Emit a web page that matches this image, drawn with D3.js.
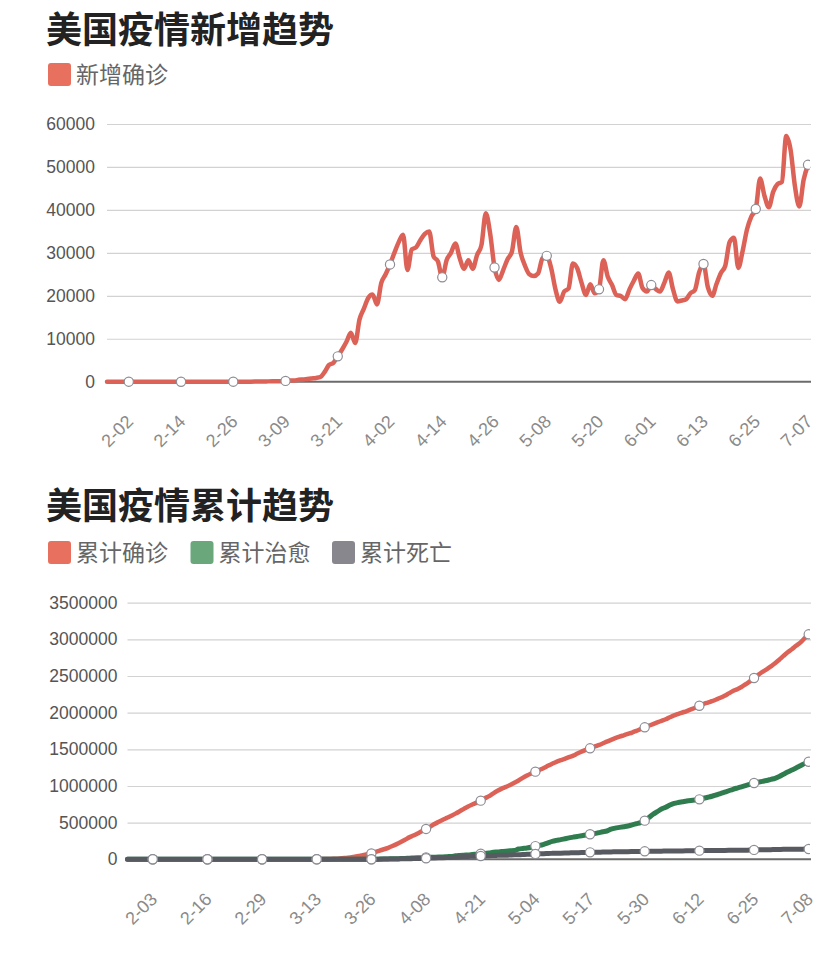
<!DOCTYPE html>
<html>
<head>
<meta charset="utf-8">
<script src="https://cdn.jsdelivr.net/npm/d3@7"></script>
<style>
  body { margin: 0; background: #fff; }
  svg { display: block; }
</style>
</head>
<body>
<svg id="chart" width="840" height="961"></svg>
<script>
// ---- data (2020, US) ----
// daily new confirmed, 1-28 .. 7-07
const dailyNew = [
  0, 0, 1, 1, 1,
  2, 3, 0, 1, 0,
  0, 0, 0, 0, 1,
  0, 1, 0, 0, 0,
  0, 0, 0, 0, 2,
  0, 0, 0, 0, 1,
  1, 2, 8, 13, 20,
  25, 33, 76, 100, 110,
  125, 190, 290, 270, 450,
  520, 650, 770, 880, 1100,
  2300, 3900, 4400, 5900, 7500,
  9300, 11400, 9000, 14500, 17000,
  19500, 20300, 18000, 23000, 25000,
  27300, 30000, 32500, 34200, 26000,
  30800, 31300, 33000, 34400, 35000,
  29200, 28000, 24300, 28300, 30000,
  32200, 28800, 26300, 28300, 26300,
  29500, 31800, 39200, 34500, 26600,
  23700, 26000, 28500, 30300, 36000,
  30000, 27000, 25000, 24600, 25200,
  28700, 29300, 26500, 21500, 18600,
  21000, 21700, 27500, 26400, 23000,
  20200, 22700, 20600, 21500, 28300,
  24500, 22500, 20200, 19950, 19200,
  21500, 23500, 25200, 21800, 21000,
  22500, 21600, 21000, 23000, 25400,
  21500, 18700, 18900, 19200, 20600,
  21300, 25500, 27400, 22000, 20000,
  22800, 25300, 27000, 32500, 33500,
  26500, 30500, 35500, 38500, 40200,
  47300, 43300, 40600, 44200, 46000,
  46500, 57200, 54000, 45500, 40800,
  47000, 50500
];

// cumulative series, 1-28 .. 7-08
const totalConfirmed = [
  5, 5, 6, 7, 8,
  11, 11, 11, 12, 12,
  12, 12, 12, 12, 13,
  13, 14, 15, 15, 15,
  15, 15, 15, 15, 35,
  35, 35, 53, 53, 59,
  60, 62, 70, 76, 101,
  122, 153, 221, 319, 435,
  541, 704, 994, 1301, 1697,
  2247, 2943, 3680, 4663, 6411,
  9197, 13779, 19367, 24192, 33592,
  43781, 54856, 68211, 80000, 100000,
  119000, 137000, 157000, 181000, 207000,
  235000, 266000, 299000, 324000, 353000,
  382000, 414000, 446000, 481000, 511000,
  540000, 566000, 594000, 623000, 655000,
  688000, 720000, 747000, 773000, 800000,
  832400, 862200, 900400, 934200, 963800,
  987200, 1012600, 1042900, 1074400, 1111500,
  1142500, 1170000, 1195400, 1220400, 1246300,
  1275000, 1302900, 1329600, 1351300, 1370900,
  1393400, 1414400, 1442800, 1468800, 1493800,
  1513800, 1535300, 1556600, 1579900, 1605100,
  1628900, 1651600, 1672200, 1691300, 1710400,
  1728900, 1751800, 1776000, 1800200, 1822200,
  1844300, 1866800, 1888500, 1910700, 1937400,
  1962100, 1982800, 2002400, 2021800, 2044300,
  2067000, 2094800, 2118500, 2137800, 2156300,
  2179700, 2203900, 2231100, 2263100, 2294900,
  2320800, 2350700, 2387600, 2426100, 2472500,
  2515600, 2555300, 2591100, 2630700, 2673400,
  2722600, 2774000, 2823200, 2865400, 2911600,
  2956100, 3013100, 3068700
];

const totalRecovered = [
  0, 0, 0, 0, 0,
  0, 0, 1, 1, 1,
  1, 1, 3, 3, 3,
  3, 3, 3, 3, 3,
  3, 3, 3, 5, 5,
  5, 5, 5, 5, 5,
  7, 7, 7, 7, 7,
  7, 8, 8, 8, 8,
  8, 8, 8, 8, 12,
  12, 12, 12, 17, 17,
  106, 106, 147, 171, 178,
  178, 348, 361, 681, 869,
  2612, 4920, 5644, 7024, 8474,
  9707, 11000, 14700, 17400, 19600,
  21700, 24000, 26500, 28800, 31300,
  32900, 36000, 38800, 48100, 52800,
  56100, 59000, 64800, 70300, 75600,
  80200, 85100, 96900, 100600, 106100,
  111200, 115900, 120700, 140100, 147400,
  153900, 164000, 180000, 190000, 205000,
  225000, 245000, 258000, 268000, 280000,
  292000, 302000, 312000, 322000, 332000,
  341000, 350000, 362000, 375000, 386000,
  410000, 425000, 435000, 445000, 455000,
  470000, 485000, 500000, 527000, 570000,
  615000, 650000, 685000, 710000, 740000,
  762000, 775000, 785000, 795000, 803000,
  810000, 818000, 833000, 846000, 860000,
  877000, 895000, 915000, 935000, 955000,
  972000, 988000, 1005000, 1022000, 1041000,
  1052000, 1063000, 1075000, 1090000, 1105000,
  1130000, 1160000, 1190000, 1218000, 1245000,
  1275000, 1305000, 1331000
];

const totalDeaths = [
  0, 0, 0, 0, 0,
  0, 0, 0, 0, 0,
  0, 0, 0, 0, 0,
  0, 0, 0, 0, 0,
  0, 0, 0, 0, 0,
  0, 0, 0, 0, 0,
  0, 0, 1, 1, 6,
  9, 11, 12, 14, 17,
  21, 22, 28, 36, 40,
  47, 54, 63, 85, 108,
  118, 200, 244, 307, 427,
  552, 706, 942, 1209, 1581,
  2026, 2467, 2978, 3873, 4757,
  5926, 7087, 8407, 9619, 10783,
  12722, 14695, 16478, 18586, 20463,
  22020, 23529, 25831, 28325, 32916,
  36773, 38664, 40661, 42094, 44845,
  46622, 49954, 51949, 53755, 54881,
  56219, 58355, 60967, 62996, 64943,
  68400, 70200, 71900, 74100, 77000,
  79200, 81200, 82800, 83500, 84700,
  86900, 88600, 90400, 92500, 93800,
  94600, 95300, 96900, 98400, 99700,
  101000, 102100, 102700, 103200, 103900,
  105400, 106600, 107800, 108800, 109400,
  109600, 110700, 111200, 112200, 113100,
  113800, 114000, 114500, 115500, 115900,
  116800, 117700, 118400, 118700, 119100,
  120000, 120700, 121400, 122100, 122700,
  123000, 123400, 124200, 125600, 128000,
  129300, 130400, 130700, 131600, 133400,
  134100, 135400, 136500, 136700, 137500,
  137800, 139300, 140200
];

const newTicks = ['2-02', '2-14', '2-26', '3-09', '3-21', '4-02', '4-14',
  '4-26', '5-08', '5-20', '6-01', '6-13', '6-25', '7-07'];
const totalTicks = ['2-03', '2-16', '2-29', '3-13', '3-26', '4-08', '4-21',
  '5-04', '5-17', '5-30', '6-12', '6-25', '7-08'];
const newYTicks = [0, 10000, 20000, 30000, 40000, 50000, 60000];
const totalYTicks = [0, 500000, 1000000, 1500000, 2000000, 2500000, 3000000, 3500000];

const fmt = d3.timeFormat('%-m-%d');
const newDates = d3.timeDay.range(new Date(2020, 0, 28), new Date(2020, 6, 8)).map(fmt);
const totalDates = d3.timeDay.range(new Date(2020, 0, 28), new Date(2020, 6, 9)).map(fmt);

const CJK = '"Noto Sans CJK SC", "Noto Sans", sans-serif';
const NUM = '"Liberation Sans", Arial, "Noto Sans CJK SC", sans-serif';

const svg = d3.select('#chart');

function drawPanel(cfg) {
  const g = svg.append('g');

  g.append('text')
    .attr('x', 46).attr('y', cfg.titleY)
    .attr('font-family', CJK).attr('font-size', 36).attr('font-weight', 700)
    .attr('fill', '#222')
    .text(cfg.title);

  cfg.series.forEach(s => {
    g.append('rect')
      .attr('x', s.legendX).attr('y', cfg.legendY)
      .attr('width', 23).attr('height', 23).attr('rx', 3)
      .attr('fill', s.legendColor);
    g.append('text')
      .attr('x', s.legendX + 28).attr('y', cfg.legendY + 20)
      .attr('font-family', CJK).attr('font-size', 23)
      .attr('fill', '#666')
      .text(s.name);
  });

  const x = d3.scalePoint().domain(cfg.dates).range(cfg.xRange);
  const y = d3.scaleLinear().domain(cfg.yDomain).range(cfg.yRange);
  const left = cfg.xRange[0];
  const right = cfg.gridRight;

  // y axis with grid lines
  const yAxis = g.append('g')
    .attr('transform', `translate(${left},0)`)
    .call(d3.axisLeft(y).tickValues(cfg.yTicks).tickFormat(d3.format('d'))
      .tickSize(-(right - left)).tickPadding(cfg.yPad));
  yAxis.select('.domain').remove();
  yAxis.selectAll('.tick line').attr('stroke', '#d2d2d2').attr('stroke-width', 1.2)
    .filter(d => d === 0).remove();
  yAxis.selectAll('.tick text')
    .attr('font-family', NUM).attr('font-size', 17.5).attr('fill', '#555');

  // x axis
  const xAxis = g.append('g')
    .attr('transform', `translate(0,${cfg.yRange[0]})`)
    .call(d3.axisBottom(x).tickValues(cfg.xTicks).tickSize(0).tickPadding(0));
  xAxis.select('.domain').remove();
  xAxis.selectAll('.tick text')
    .attr('y', 0).attr('dy', 0)
    .attr('transform', 'translate(5,41) rotate(-45)')
    .attr('text-anchor', 'end')
    .attr('font-family', NUM).attr('font-size', 18).attr('fill', '#8a8a8a');

  g.append('line')
    .attr('x1', left).attr('x2', right)
    .attr('y1', cfg.yRange[0]).attr('y2', cfg.yRange[0])
    .attr('stroke', '#6b6b6b').attr('stroke-width', 2);

  const clipId = 'clip-' + cfg.id;
  g.append('clipPath').attr('id', clipId)
    .append('rect')
    .attr('x', left - 10).attr('y', cfg.yRange[1] - 20)
    .attr('width', right - left + 9).attr('height', cfg.yRange[0] - cfg.yRange[1] + 30);

  const plot = g.append('g').attr('clip-path', `url(#${clipId})`);
  const line = d3.line()
    .x((d, i) => x(cfg.dates[i]))
    .y(d => y(d))
    .curve(d3.curveMonotoneX);

  cfg.series.forEach(s => {
    plot.append('path')
      .datum(s.values)
      .attr('fill', 'none')
      .attr('stroke', s.color)
      .attr('stroke-width', s.width)
      .attr('stroke-linejoin', 'round')
      .attr('stroke-linecap', 'round')
      .attr('d', line);
  });
  cfg.series.forEach(s => {
    plot.selectAll(null)
      .data(cfg.xTicks)
      .enter().append('circle')
      .attr('cx', d => x(d))
      .attr('cy', d => y(s.values[cfg.dates.indexOf(d)]))
      .attr('r', 4.6)
      .attr('fill', '#fff')
      .attr('stroke', '#8d8d95')
      .attr('stroke-width', 1.2);
  });
}

drawPanel({
  id: 'new',
  title: '美国疫情新增趋势',
  titleY: 43,
  legendY: 63,
  dates: newDates,
  xTicks: newTicks,
  xRange: [107, 808],
  gridRight: 811,
  yDomain: [0, 60000],
  yRange: [381.7, 124],
  yTicks: newYTicks,
  yPad: 12,
  series: [
    { name: '新增确诊', values: dailyNew, color: '#dc6257', legendColor: '#e7705f', width: 4.5, legendX: 48 }
  ]
});

drawPanel({
  id: 'total',
  title: '美国疫情累计趋势',
  titleY: 519,
  legendY: 541,
  dates: totalDates,
  xTicks: totalTicks,
  xRange: [127.5, 808.7],
  gridRight: 811,
  yDomain: [0, 3500000],
  yRange: [859.3, 602.7],
  yTicks: totalYTicks,
  yPad: 10,
  series: [
    { name: '累计确诊', values: totalConfirmed, color: '#dc6257', legendColor: '#e7705f', width: 4.5, legendX: 48 },
    { name: '累计治愈', values: totalRecovered, color: '#2f7d4f', legendColor: '#6aa77b', width: 5, legendX: 190.5 },
    { name: '累计死亡', values: totalDeaths, color: '#585a62', legendColor: '#87878d', width: 5, legendX: 332 }
  ]
});
</script>
</body>
</html>
